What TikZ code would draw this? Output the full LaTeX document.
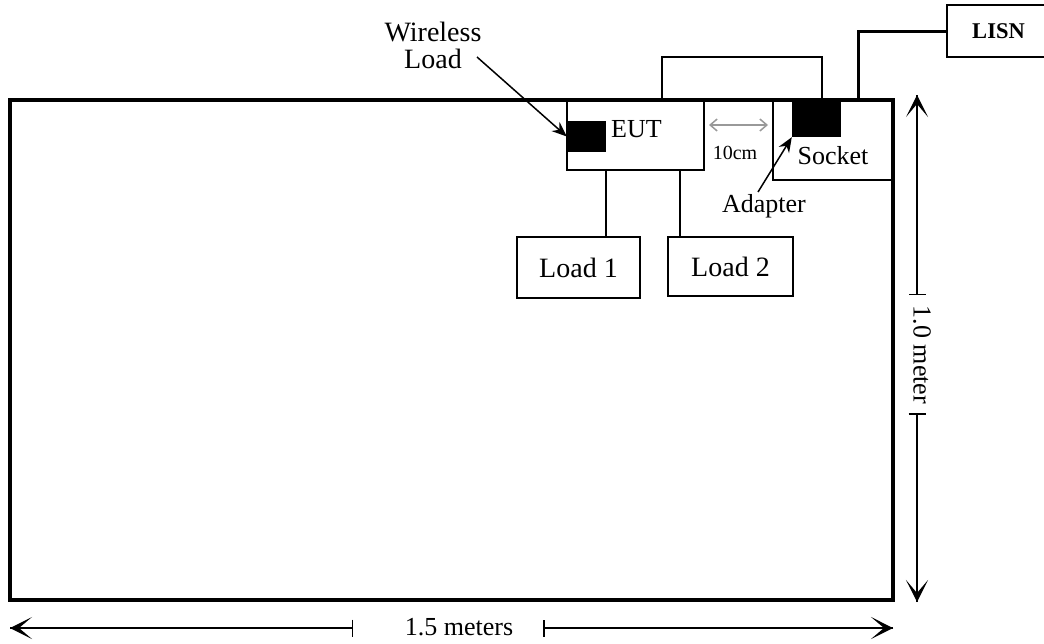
\documentclass[tikz,border=0pt]{standalone}
\usepackage{fontspec}
\setmainfont{Liberation Serif}
\usetikzlibrary{arrows.meta,calc}
\tikzset{
  box/.style={draw,line width=1.5pt,inner sep=0pt},
  blk/.style={fill=black,inner sep=0pt},
  dimarrow/.style={line width=1.5pt,-{Stealth[length=22pt,width=22pt,inset=13pt]}},
  dimbar/.style={line width=1.5pt,-{Bar[width=17pt,line width=1.5pt]}}
}
\begin{document}
\begin{tikzpicture}[x=1pt,y=-1pt,every node/.style={font=\fontsize{26}{29}\selectfont}]
\useasboundingbox (0,0) rectangle (1044,643);
% table top
\draw[line width=4pt] (10,100) rectangle (893,600);
% eut with wireless load
\node[box,minimum width=137pt,minimum height=69pt] (eut) at (635.5,135.5) {};
\node[blk,minimum width=39pt,minimum height=31pt] (wl) at (586.5,136.5) {};
\node[anchor=base west,inner xsep=0pt] (eutt) at (611,137) {EUT};
% socket with adapter
\node[box,minimum width=120pt,minimum height=80pt] (sock) at (833,140) {};
\node[blk,minimum width=49pt,minimum height=37pt] (adp) at (816.5,118.5) {};
\node[anchor=base] (sockt) at (833,164) {Socket};
% loads
\node[box,minimum width=123pt,minimum height=61pt,font=\fontsize{28}{31}\selectfont] (load1) at (578.5,267.5) {Load 1};
\node[box,minimum width=125pt,minimum height=59pt,font=\fontsize{28}{31}\selectfont] (load2) at (730.5,266.5) {Load 2};
\coordinate (xa) at (606,0);
\coordinate (xb) at (680,0);
\draw[line width=1.5pt] (eut.south -| xa) -- (load1.north -| xa);
\draw[line width=1.5pt] (eut.south -| xb) -- (load2.north -| xb);
% cables
\coordinate (ca) at (662,100);
\coordinate (cb) at (822,100);
\draw[line width=1.5pt] (ca) -- ++(0,-43) -| (cb);
\node[box,minimum width=103pt,minimum height=52pt,font=\fontsize{22.5}{25}\selectfont\bfseries] (lisn) at (998.5,31) {LISN};
\coordinate (cl) at (858,100);
\draw[line width=3pt] (cl) |- (lisn.west);
% spacing
\node[anchor=base,font=\fontsize{20}{23}\selectfont] (gap) at (735,159) {10cm};
\coordinate (ga) at (709,125);
\coordinate (gb) at (768,125);
\draw[gray!80,line width=1.5pt,{Straight Barb[length=7pt,width=12pt]}-{Straight Barb[length=7pt,width=12pt]}] (ga) -- (gb);
% labels
\node[align=center,font=\fontsize{28}{27}\selectfont] (wlt) at (433,45) {Wireless\\Load};
\coordinate (wla) at (477,57);
\draw[line width=1.5pt,-{Stealth[length=15pt,width=12pt]}] (wla) -- (wl.west);
\node[anchor=base] (adpt) at (764,212) {Adapter};
\coordinate (ada) at (758,192);
\draw[line width=1.5pt,-{Stealth[length=15pt,width=12pt]}] (ada) -- (adp.south west);
% dimensions
\node (wid) at (459,627) {1.5 meters};
\coordinate (wl0) at (10,628);
\coordinate (wl1) at (353,628);
\coordinate (wr0) at (543,628);
\coordinate (wr1) at (893,628);
\draw[dimbar] (wl0) -- (wl1);
\draw[dimarrow] (wl1) -- (wl0);
\draw[dimbar] (wr1) -- (wr0);
\draw[dimarrow] (wr0) -- (wr1);
\node[rotate=-90] (hei) at (922,355) {1.0 meter};
\coordinate (ht0) at (917,95);
\coordinate (ht1) at (917,295);
\coordinate (hb0) at (917,413);
\coordinate (hb1) at (917,602);
\draw[dimbar] (ht0) -- (ht1);
\draw[dimarrow] (ht1) -- (ht0);
\draw[dimbar] (hb1) -- (hb0);
\draw[dimarrow] (hb0) -- (hb1);
\end{tikzpicture}
\end{document}
